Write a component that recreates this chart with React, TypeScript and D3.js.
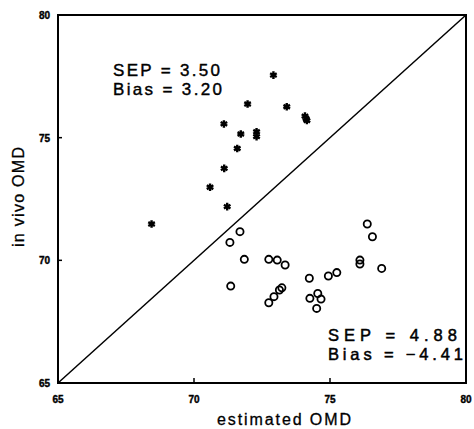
import React, { useRef, useEffect } from 'react'
import * as d3 from 'd3'

// stars: first group (above the line)
const starX = [68.44, 72.92, 71.97, 73.41, 74.08, 74.12, 74.15, 71.10, 71.72, 72.30, 72.30, 71.59, 71.11, 70.59, 71.22]
const starY = [71.48, 77.55, 76.37, 76.26, 75.88, 75.78, 75.70, 75.56, 75.15, 75.24, 75.04, 74.56, 73.75, 72.98, 72.19]

// circles: second group (below the line)
const circX = [71.69, 71.32, 71.85, 72.75, 73.06, 73.35, 71.35, 73.23, 73.14, 72.94, 72.75, 74.24, 74.26, 74.55, 74.67, 74.51, 74.94, 75.25, 76.37, 76.56, 76.10, 76.10, 76.90]
const circY = [71.17, 70.73, 70.04, 70.04, 70.01, 69.81, 68.95, 68.88, 68.79, 68.52, 68.27, 69.27, 68.45, 68.65, 68.42, 68.04, 69.36, 69.50, 71.48, 70.96, 70.01, 69.85, 69.67]

const ticks = [65, 70, 75, 80]
const statsA = ['SEP = 3.50', 'Bias = 3.20']
const statsALen = [107, 109]
const statsB = ['SEP = 4.88', 'Bias = \u22124.41']
const statsBLen = [129, 135]

const App = () => {
  const ref = useRef<SVGSVGElement>(null)

  useEffect(() => {
    const svg = d3.select(ref.current)
    svg.selectAll('*').remove()

    const left = 58, right = 466, top = 15, bottom = 383
    const x = d3.scaleLinear().domain([65, 80]).range([left, right])
    const y = d3.scaleLinear().domain([65, 80]).range([bottom, top])
    const font = 'Liberation Sans, Arial, sans-serif'

    // frame
    svg.append('rect')
      .attr('x', left).attr('y', top)
      .attr('width', right - left).attr('height', bottom - top)
      .attr('fill', 'none').attr('stroke', 'black').attr('stroke-width', 2)

    // identity line
    svg.append('line')
      .attr('x1', x(65)).attr('y1', y(65))
      .attr('x2', x(80)).attr('y2', y(80))
      .attr('stroke', 'black').attr('stroke-width', 1.5)

    // ticks
    svg.selectAll('.xt').data(ticks.slice(1, 3)).enter().append('line')
      .attr('x1', d => x(d)).attr('x2', d => x(d))
      .attr('y1', bottom).attr('y2', bottom - 5)
      .attr('stroke', 'black').attr('stroke-width', 1.5)
    svg.selectAll('.yt').data(ticks.slice(1, 3)).enter().append('line')
      .attr('y1', d => y(d)).attr('y2', d => y(d))
      .attr('x1', left).attr('x2', left + 4)
      .attr('stroke', 'black').attr('stroke-width', 1.5)

    // tick labels
    svg.selectAll('.xl').data(ticks).enter().append('text')
      .attr('x', d => x(d)).attr('y', 403)
      .attr('text-anchor', 'middle')
      .attr('font-family', font).attr('font-weight', 'bold').attr('font-size', 10)
      .attr('stroke', 'black').attr('stroke-width', 0.4)
      .text(d => d)
    svg.selectAll('.yl').data(ticks).enter().append('text')
      .attr('x', 50).attr('y', d => y(d) + 4)
      .attr('text-anchor', 'end')
      .attr('font-family', font).attr('font-weight', 'bold').attr('font-size', 10)
      .attr('stroke', 'black').attr('stroke-width', 0.4)
      .text(d => d)

    // axis titles
    svg.append('text')
      .attr('x', 217).attr('y', 425)
      .attr('textLength', 134).attr('lengthAdjust', 'spacing')
      .attr('font-family', font).attr('font-size', 16)
      .attr('stroke', 'black').attr('stroke-width', 0.3)
      .text('estimated OMD')
    svg.append('text')
      .attr('transform', 'translate(24, 247) rotate(-90)')
      .attr('textLength', 100).attr('lengthAdjust', 'spacing')
      .attr('font-family', font).attr('font-size', 16)
      .attr('stroke', 'black').attr('stroke-width', 0.3)
      .text('in vivo OMD')

    // stats text
    svg.selectAll('.sa').data(statsA).enter().append('text')
      .attr('x', 113).attr('y', (d, i) => 76 + i * 19)
      .attr('textLength', (d, i) => statsALen[i]).attr('lengthAdjust', 'spacing')
      .attr('font-family', font).attr('font-size', 17)
      .attr('stroke', 'black').attr('stroke-width', 0.4)
      .text(d => d)
    svg.selectAll('.sb').data(statsB).enter().append('text')
      .attr('x', 328).attr('y', (d, i) => 341 + i * 19)
      .attr('textLength', (d, i) => statsBLen[i]).attr('lengthAdjust', 'spacing')
      .attr('font-family', font).attr('font-size', 16.5)
      .attr('stroke', 'black').attr('stroke-width', 0.5)
      .text(d => d)

    // stars
    const star = d3.symbol().type(d3.symbolAsterisk).size(40)
    svg.selectAll('.star').data(starX).enter().append('path')
      .attr('d', star)
      .attr('transform', (d, i) => `translate(${x(d)}, ${y(starY[i])})`)
      .attr('fill', 'none').attr('stroke', 'black').attr('stroke-width', 2.4)

    // circles
    svg.selectAll('.circ').data(circX).enter().append('circle')
      .attr('cx', d => x(d)).attr('cy', (d, i) => y(circY[i]))
      .attr('r', 3.6)
      .attr('fill', 'none').attr('stroke', 'black').attr('stroke-width', 1.8)
  }, [])

  return (
    <svg ref={ref} width={474} height={429}
      style={{ position: 'absolute', left: 0, top: 0, background: 'white' }} />
  )
}

export default App
